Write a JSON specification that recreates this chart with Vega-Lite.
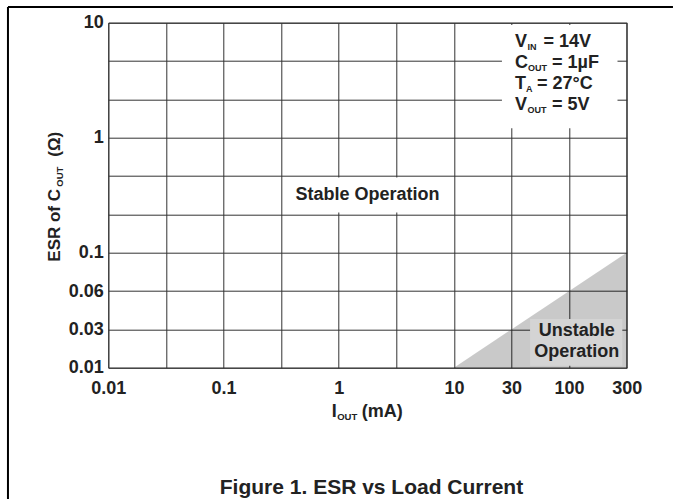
{
  "$schema": "https://vega.github.io/schema/vega-lite/v6.json",
  "width": 518.4,
  "height": 345,
  "autosize": {"type": "none"},
  "padding": {"left": 108.3, "top": 22.7, "right": 46.3, "bottom": 131.3},
  "background": "white",
  "data": {"values": [{}]},
  "config": {
    "view": {"stroke": "#333", "strokeWidth": 1},
    "font": "Liberation Sans",
    "text": {"font": "Liberation Sans", "fontWeight": "bold", "color": "#222"}
  },
  "title": {
    "text": "Figure 1. ESR vs Load Current",
    "orient": "bottom",
    "anchor": "middle",
    "font": "Liberation Sans",
    "fontSize": 21,
    "fontWeight": "bold",
    "color": "#222",
    "offset": -23,
    "dx": 4
  },
  "layer": [
    {
      "data": {"values": [{"I_mA": 10, "ESR_ohm": 0.01}, {"I_mA": 300, "ESR_ohm": 0.1}]},
      "mark": {"type": "area", "color": "#000", "fillOpacity": 0.21},
      "encoding": {
        "x": {
          "field": "I_mA", "type": "quantitative",
          "scale": {"type": "log", "domain": [0.01, 10, 30, 100, 300], "range": [0, 345.6, 403.2, 460.8, 518.4], "nice": false},
          "axis": {
            "title": null,
            "values": [0.01, 0.0316228, 0.1, 0.316228, 1, 3.16228, 10, 30, 100, 300],
            "labelExpr": "(datum.value < 0.02 || (datum.value > 0.05 && datum.value < 0.2) || (datum.value > 0.5 && datum.value < 2) || datum.value > 5) ? format(datum.value, '~g') : ''",
            "grid": true, "gridColor": "#333", "gridOpacity": 1, "gridWidth": 1,
            "ticks": false, "tickSize": 0, "domain": false,
            "labelPadding": 12, "labelFont": "Liberation Sans", "labelFontSize": 18, "labelFontWeight": "bold", "labelColor": "#222",
            "labelOverlap": false, "labelFlush": false
          }
        },
        "y": {
          "field": "ESR_ohm", "type": "quantitative",
          "scale": {"type": "log", "domain": [0.01, 0.03, 0.06, 0.1, 10], "range": [345, 306.7, 268.3, 230, 0], "nice": false},
          "axis": {
            "title": null,
            "values": [0.01, 0.03, 0.06, 0.1, 0.215443, 0.464159, 1, 2.15443, 4.64159, 10],
            "labelExpr": "(datum.value <= 0.11 || (datum.value > 0.9 && datum.value < 1.1) || datum.value > 9) ? format(datum.value, '~g') : ''",
            "grid": true, "gridColor": "#333", "gridOpacity": 1, "gridWidth": 1,
            "ticks": false, "tickSize": 0, "domain": false,
            "labelPadding": 5, "labelFont": "Liberation Sans", "labelFontSize": 18, "labelFontWeight": "bold", "labelColor": "#222",
            "labelOverlap": false, "labelFlush": false
          }
        },
        "y2": {"datum": 0.01}
      }
    },
    {
      "mark": {"type": "rule", "color": "#000", "strokeWidth": 2},
      "encoding": {"x": {"datum": 0.001346}, "y": {"datum": 13.69}, "y2": {"datum": 0.0002314}}
    },
    {
      "mark": {"type": "rule", "color": "#000", "strokeWidth": 2},
      "encoding": {"x": {"datum": 0.001346}, "x2": {"datum": 725}, "y": {"datum": 13.69}}
    },
    {
      "mark": {"type": "rect", "fill": "white", "stroke": null},
      "encoding": {"x": {"datum": 25.0}, "x2": {"datum": 251.7}, "y": {"datum": 9.55}, "y2": {"datum": 1.21}}
    },
    {
      "mark": {"type": "rect", "fill": "white", "stroke": null},
      "encoding": {"x": {"datum": 0.342}, "x2": {"datum": 9.44}, "y": {"datum": 0.451}, "y2": {"datum": 0.224}}
    },
    {
      "mark": {"type": "rect", "fill": "#d4d4d4", "stroke": null},
      "encoding": {"x": {"datum": 44.2}, "x2": {"datum": 275.9}, "y": {"datum": 0.0362}, "y2": {"datum": 0.01059}}
    },
    {
      "mark": {"type": "text", "text": "Stable Operation", "fontSize": 18, "align": "center", "baseline": "middle"},
      "encoding": {"x": {"datum": 1.778}, "y": {"datum": 0.316228}}
    },
    {
      "mark": {"type": "text", "text": "Unstable", "fontSize": 18, "align": "center", "baseline": "middle"},
      "encoding": {"x": {"datum": 115.6}, "y": {"datum": 0.0289}}
    },
    {
      "mark": {"type": "text", "text": "Operation", "fontSize": 18, "align": "center", "baseline": "middle"},
      "encoding": {"x": {"datum": 115.6}, "y": {"datum": 0.01582}}
    },
    {
      "mark": {"type": "text", "text": "V", "fontSize": 18, "align": "left", "baseline": "alphabetic", "dx": 3.5},
      "encoding": {"x": {"datum": 30}, "y": {"datum": 6.11}}
    },
    {
      "mark": {"type": "text", "text": "IN", "fontSize": 9, "align": "left", "baseline": "alphabetic", "dx": 16, "dy": 3},
      "encoding": {"x": {"datum": 30}, "y": {"datum": 6.11}}
    },
    {
      "mark": {"type": "text", "text": "= 14V", "fontSize": 18, "align": "left", "baseline": "alphabetic", "dx": 32},
      "encoding": {"x": {"datum": 30}, "y": {"datum": 6.11}}
    },
    {
      "mark": {"type": "text", "text": "C", "fontSize": 18, "align": "left", "baseline": "alphabetic", "dx": 3.5},
      "encoding": {"x": {"datum": 30}, "y": {"datum": 4.01}}
    },
    {
      "mark": {"type": "text", "text": "OUT", "fontSize": 9, "align": "left", "baseline": "alphabetic", "dx": 16.5, "dy": 3},
      "encoding": {"x": {"datum": 30}, "y": {"datum": 4.01}}
    },
    {
      "mark": {"type": "text", "text": "= 1µF", "fontSize": 18, "align": "left", "baseline": "alphabetic", "dx": 40.5},
      "encoding": {"x": {"datum": 30}, "y": {"datum": 4.01}}
    },
    {
      "mark": {"type": "text", "text": "T", "fontSize": 18, "align": "left", "baseline": "alphabetic", "dx": 3.5},
      "encoding": {"x": {"datum": 30}, "y": {"datum": 2.65}}
    },
    {
      "mark": {"type": "text", "text": "A", "fontSize": 9, "align": "left", "baseline": "alphabetic", "dx": 14.5, "dy": 3},
      "encoding": {"x": {"datum": 30}, "y": {"datum": 2.65}}
    },
    {
      "mark": {"type": "text", "text": "= 27°C", "fontSize": 18, "align": "left", "baseline": "alphabetic", "dx": 25.5},
      "encoding": {"x": {"datum": 30}, "y": {"datum": 2.65}}
    },
    {
      "mark": {"type": "text", "text": "V", "fontSize": 18, "align": "left", "baseline": "alphabetic", "dx": 3.5},
      "encoding": {"x": {"datum": 30}, "y": {"datum": 1.74}}
    },
    {
      "mark": {"type": "text", "text": "OUT", "fontSize": 9, "align": "left", "baseline": "alphabetic", "dx": 16, "dy": 3},
      "encoding": {"x": {"datum": 30}, "y": {"datum": 1.74}}
    },
    {
      "mark": {"type": "text", "text": "= 5V", "fontSize": 18, "align": "left", "baseline": "alphabetic", "dx": 40.5},
      "encoding": {"x": {"datum": 30}, "y": {"datum": 1.74}}
    },
    {
      "mark": {"type": "text", "text": "I", "fontSize": 18, "align": "left", "baseline": "alphabetic", "dx": -7, "dy": 49},
      "encoding": {"x": {"datum": 1}, "y": {"datum": 0.01}}
    },
    {
      "mark": {"type": "text", "text": "OUT", "fontSize": 9.5, "align": "left", "baseline": "alphabetic", "dx": -1.5, "dy": 52},
      "encoding": {"x": {"datum": 1}, "y": {"datum": 0.01}}
    },
    {
      "mark": {"type": "text", "text": "(mA)", "fontSize": 18, "align": "left", "baseline": "alphabetic", "dx": 23, "dy": 49},
      "encoding": {"x": {"datum": 1}, "y": {"datum": 0.01}}
    },
    {
      "mark": {"type": "text", "text": "ESR of C", "fontSize": 17, "angle": 270, "align": "left", "baseline": "alphabetic", "dx": -66.5, "dy": -48.3},
      "encoding": {"x": {"datum": 0.01}, "y": {"datum": 0.316228}}
    },
    {
      "mark": {"type": "text", "text": "OUT", "fontSize": 9.5, "angle": 270, "align": "left", "baseline": "alphabetic", "dx": 8.5, "dy": -45.3},
      "encoding": {"x": {"datum": 0.01}, "y": {"datum": 0.316228}}
    },
    {
      "mark": {"type": "text", "text": "(Ω)", "fontSize": 17, "angle": 270, "align": "left", "baseline": "alphabetic", "dx": 38.5, "dy": -48.3},
      "encoding": {"x": {"datum": 0.01}, "y": {"datum": 0.316228}}
    }
  ]
}
